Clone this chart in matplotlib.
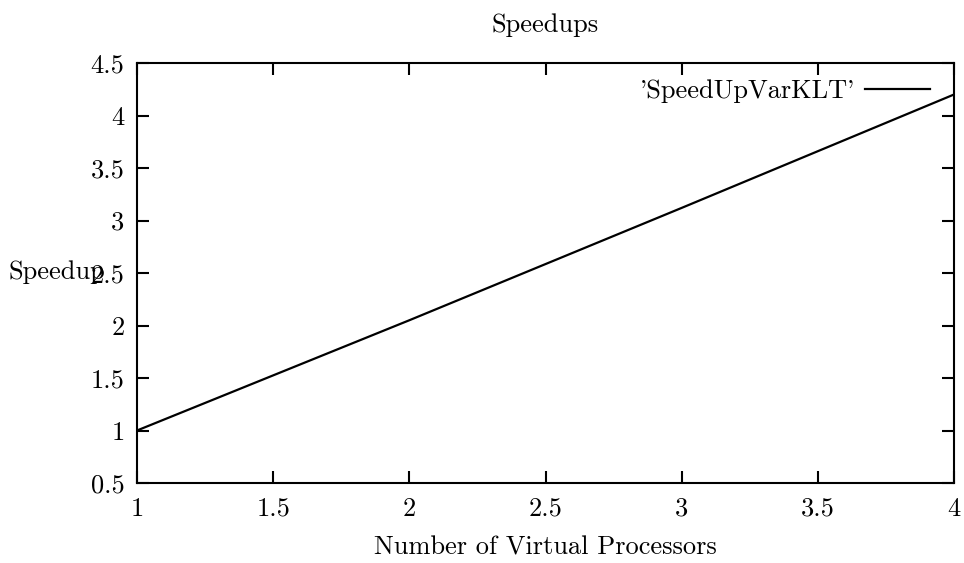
import matplotlib
matplotlib.use("Agg")
import matplotlib.pyplot as plt

processors = [1, 2, 3, 4]
speedup = [1.0, 2.05, 3.12, 4.2]
series_label = "'SpeedUpVarKLT'"
xticks = [1, 1.5, 2, 2.5, 3, 3.5, 4]
xtick_labels = ["1", "1.5", "2", "2.5", "3", "3.5", "4"]
yticks = [0.5, 1, 1.5, 2, 2.5, 3, 3.5, 4, 4.5]
ytick_labels = ["0.5", "1", "1.5", "2", "2.5", "3", "3.5", "4", "4.5"]

plt.rcParams['font.family'] = ['cmr10', 'DejaVu Serif']
plt.rcParams['axes.formatter.use_mathtext'] = True
fs = 19

fig = plt.figure(figsize=(9.64, 5.63), dpi=100)
ax = fig.add_axes([137/964, 1-483/563, (954-137)/964, (483-63)/563])
ax.plot(processors, speedup, color='black', lw=1.6, label=series_label)
ax.set_xlim(1, 4)
ax.set_ylim(0.5, 4.5)
ax.set_xticks(xticks)
ax.set_xticklabels(xtick_labels, fontsize=fs)
ax.set_yticks(yticks)
ax.set_yticklabels(ytick_labels, fontsize=fs)
ax.tick_params(axis='x', direction='in', length=8.6, width=1.5, top=True, pad=10)
ax.tick_params(axis='y', direction='in', length=8.6, width=1.5, right=True, pad=9)
for s in ax.spines.values():
    s.set_linewidth(1.5)
fig.text(545/964, 1-25/563, "Speedups", ha='center', va='center', fontsize=fs)
fig.text(545/964, 1-548/563, "Number of Virtual Processors", ha='center', va='center', fontsize=fs)
fig.text(9/964, 1-272/563, "Speedup", ha='left', va='center', fontsize=fs)
leg = ax.legend(loc='center right', frameon=False, markerfirst=False, fontsize=fs,
                handlelength=2.45, handletextpad=0.4, borderaxespad=0, borderpad=0,
                bbox_to_anchor=(930/964, 1-91/563), bbox_transform=fig.transFigure)
fig.savefig("out.png", dpi=100)
